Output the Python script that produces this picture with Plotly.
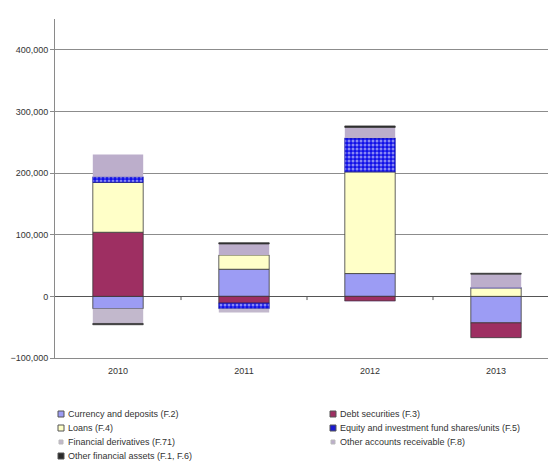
import plotly.graph_objects as go

# Annual transactions in financial assets, by instrument
years = ["2010", "2011", "2012", "2013"]

currency_deposits = [-20000, 44000, 37000, -43000]
debt_securities = [104000, -11000, -7500, -24000]
loans = [81000, 23000, 165000, 14000]
equity_fund_shares = [9000, -9000, 55000, 0]
financial_derivatives = [-24000, -6000, -1500, 0]
other_receivable = [36000, 18000, 17000, 22000]
other_fin_assets = [-2000, 2000, 2500, 1500]

series_names = [
    "Currency and deposits (F.2)",
    "Debt securities (F.3)",
    "Loans (F.4)",
    "Equity and investment fund shares/units (F.5)",
    "Financial derivatives (F.71)",
    "Other accounts receivable (F.8)",
    "Other financial assets (F.1, F.6)",
]
series_values = [
    currency_deposits, debt_securities, loans, equity_fund_shares,
    financial_derivatives, other_receivable, other_fin_assets,
]
series_colors = ["#9c9cf4", "#9e2f62", "#ffffc8", "#1010e8",
                 "#c2b8cc", "#bcaecb", "#2a2a2a"]
y_ticks = [-100000, 0, 100000, 200000, 300000, 400000]

W, H = 548, 465
ML, MT, MB = 55, 19, 107
PW, PH = W - ML, H - MT - MB
FONT = "Liberation Sans, Arial, sans-serif"
TXT = "#333333"


def px_x(px):
    return (px - ML) / PW


def px_y(py):
    return 1 - (py - MT) / PH


fig = go.Figure()
for name, vals, col in zip(series_names, series_values, series_colors):
    pattern = None
    line_col = "#3a3a3a"
    if name.startswith("Equity"):
        pattern = dict(shape=".", fgcolor="#ffffff", bgcolor=col,
                       size=4, solidity=0.45)
        line_col = "#1010a0"
    if name.startswith("Financial") or name.startswith("Other accounts"):
        line_col = "rgba(0,0,0,0)"
    fig.add_trace(go.Bar(
        x=years, y=vals, name=name, showlegend=False,
        marker=dict(color=col, line=dict(color=line_col, width=0.8),
                    pattern=pattern),
    ))

# Short tick marks on the zero line between categories
for i in range(len(years) - 1):
    fig.add_shape(type="line", xref="x", yref="y",
                  x0=i + 0.5, x1=i + 0.5, y0=0, y1=-6000,
                  line=dict(color="#555555", width=1))

# Two-column legend beneath the chart
col_x = [58, 330]
row_y0, row_dy = 414, 14
for k, (name, col) in enumerate(zip(series_names, series_colors)):
    c, r = k % 2, k // 2
    x0 = col_x[c]
    yc = row_y0 + r * row_dy
    small = name.startswith("Financial") or name.startswith("Other accounts")
    s = 2 if small else 3
    fig.add_shape(type="rect", xref="paper", yref="paper",
                  x0=px_x(x0 + 3 - s), x1=px_x(x0 + 3 + s),
                  y0=px_y(yc + s), y1=px_y(yc - s),
                  fillcolor=col if not name.startswith("Equity") else "#1a1ad0",
                  line=dict(color="#555555" if not small else "#bbbbbb", width=1))
    fig.add_annotation(text=name, xref="paper", yref="paper",
                       x=px_x(x0 + 8), y=px_y(yc),
                       xanchor="left", yanchor="middle", showarrow=False,
                       font=dict(family=FONT, size=9, color=TXT))

cat_px = 126
fig.update_layout(
    width=W, height=H,
    margin=dict(l=ML, r=0, t=MT, b=MB, pad=0),
    barmode="relative",
    bargap=0.6,
    plot_bgcolor="white", paper_bgcolor="white",
    font=dict(family=FONT, size=9, color=TXT),
    xaxis=dict(
        type="category", range=[-0.5, -0.5 + PW / cat_px],
        showgrid=False, showline=True, linecolor="#8a8a8a", linewidth=1,
        ticks="", tickfont=dict(family=FONT, size=9, color=TXT),
        ticklabelstandoff=4,
    ),
    yaxis=dict(
        range=[-100000, 450000], tickvals=y_ticks, tickformat=",",
        showgrid=True, gridcolor="#8c8c8c", gridwidth=1,
        zeroline=True, zerolinecolor="#555555", zerolinewidth=1,
        showline=True, linecolor="#8a8a8a", linewidth=1,
        ticks="outside", ticklen=4, tickcolor="#8a8a8a",
        tickfont=dict(family=FONT, size=9, color=TXT),
    ),
)

fig.write_html("out.html")
